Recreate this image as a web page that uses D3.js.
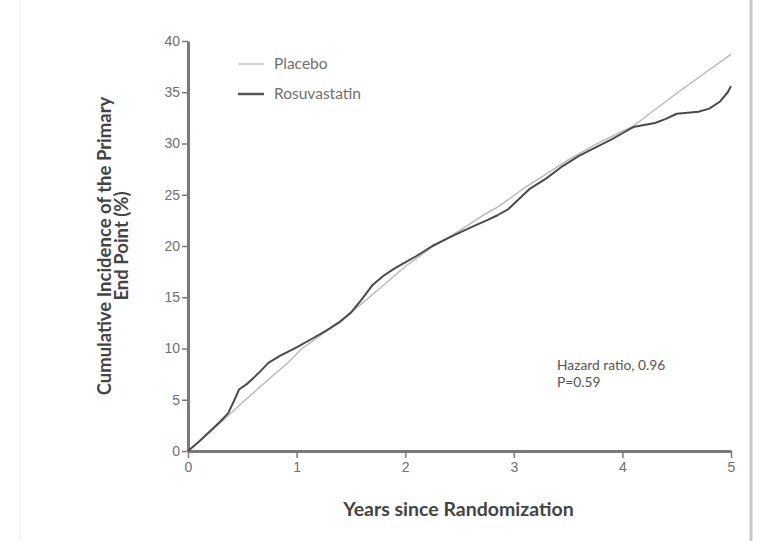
<!DOCTYPE html>
<html>
<head>
<meta charset="utf-8">
<script src="https://cdn.jsdelivr.net/npm/d3@7"></script>
<style>
  html, body { margin: 0; padding: 0; background: #fff; }
  svg { display: block; font-family: Lato, "Open Sans", sans-serif; }
</style>
</head>
<body>
<svg id="chart" width="761" height="541"></svg>
<script>
// Cumulative incidence of the primary end point (%), by years since randomization
const placebo = [
  [0, 0], [0.25, 2.3], [0.5, 4.7], [0.7, 6.6], [0.92, 8.6], [1.05, 10.0],
  [1.25, 11.5], [1.5, 13.5], [1.75, 15.7], [2.0, 18.0], [2.25, 19.9],
  [2.5, 21.5], [2.75, 23.2], [2.85, 23.8], [3.0, 24.9], [3.1, 25.7],
  [3.25, 26.7], [3.5, 28.4], [3.75, 29.9], [4.0, 31.2], [4.1, 31.7],
  [4.25, 32.9], [4.5, 34.9], [4.75, 36.8], [5.0, 38.7]
];
const rosuvastatin = [
  [0, 0], [0.1, 0.9], [0.2, 1.9], [0.3, 2.9], [0.37, 3.7], [0.42, 4.8],
  [0.47, 6.0], [0.55, 6.6], [0.65, 7.6], [0.74, 8.6], [0.85, 9.3],
  [1.0, 10.1], [1.15, 11.0], [1.28, 11.8], [1.4, 12.6], [1.5, 13.5],
  [1.6, 14.8], [1.7, 16.2], [1.8, 17.1], [1.9, 17.8], [2.0, 18.4],
  [2.1, 19.0], [2.25, 20.0], [2.4, 20.8], [2.5, 21.3], [2.6, 21.8],
  [2.75, 22.5], [2.85, 23.0], [2.95, 23.6], [3.05, 24.6], [3.15, 25.6],
  [3.3, 26.6], [3.45, 27.8], [3.6, 28.8], [3.75, 29.6], [3.9, 30.4],
  [4.0, 31.0], [4.1, 31.6], [4.2, 31.8], [4.3, 32.0], [4.4, 32.4],
  [4.5, 32.9], [4.6, 33.0], [4.7, 33.1], [4.8, 33.4], [4.9, 34.1],
  [4.97, 35.0], [5.0, 35.6]
];
const xTicks = [0, 1, 2, 3, 4, 5];
const yTicks = [0, 5, 10, 15, 20, 25, 30, 35, 40];
const seriesNames = ["Placebo", "Rosuvastatin"];
const statsLines = ["Hazard ratio, 0.96", "P=0.59"];

const svg = d3.select("#chart");
const plot = { left: 188, right: 731, top: 41, bottom: 451 };

const x = d3.scaleLinear().domain([0, 5]).range([plot.left, plot.right]);
const y = d3.scaleLinear().domain([0, 40]).range([plot.bottom, plot.top]);

// frame edges of the panel
svg.append("line").attr("x1", 751).attr("x2", 751).attr("y1", 0).attr("y2", 541)
  .attr("stroke", "#c8c8c8").attr("stroke-width", 3);
svg.append("line").attr("x1", 20).attr("x2", 20).attr("y1", 0).attr("y2", 541)
  .attr("stroke", "#f0f0f0").attr("stroke-width", 1);

const axisColor = "#7a7a7a";
const tickText = "#707070";

// x axis
const gx = svg.append("g").attr("transform", `translate(0,${plot.bottom})`)
  .call(d3.axisBottom(x).tickValues(xTicks).tickFormat(d3.format("d"))
    .tickSizeInner(7).tickSizeOuter(0).tickPadding(4));
gx.select(".domain").attr("stroke", axisColor).attr("stroke-width", 3);
gx.selectAll(".tick line").attr("stroke", axisColor).attr("stroke-width", 1.5);
gx.selectAll(".tick text").attr("fill", tickText).attr("font-size", 14);

// y axis
const gy = svg.append("g").attr("transform", `translate(${plot.left},0)`)
  .call(d3.axisLeft(y).tickValues(yTicks).tickFormat(d3.format("d"))
    .tickSizeInner(6).tickSizeOuter(0).tickPadding(2));
gy.select(".domain").attr("stroke", axisColor).attr("stroke-width", 3);
gy.selectAll(".tick line").attr("stroke", axisColor).attr("stroke-width", 1.5);
gy.selectAll(".tick text").attr("fill", tickText).attr("font-size", 14);

// curves
const line = d3.line().x(d => x(d[0])).y(d => y(d[1])).curve(d3.curveLinear);
svg.append("path").datum(placebo).attr("d", line)
  .attr("fill", "none").attr("stroke", "#b8b8b8").attr("stroke-width", 1.4);
svg.append("path").datum(rosuvastatin).attr("d", line)
  .attr("fill", "none").attr("stroke", "#4a4a4a").attr("stroke-width", 2)
  .attr("stroke-linejoin", "round");

// legend
const legend = svg.append("g");
const legendStyles = [{ c: "#c4c4c4", w: 1.5 }, { c: "#555", w: 2.5 }];
seriesNames.forEach((name, i) => {
  const ly = 64 + i * 30;
  legend.append("line").attr("x1", 238).attr("x2", 264).attr("y1", ly).attr("y2", ly)
    .attr("stroke", legendStyles[i].c).attr("stroke-width", legendStyles[i].w);
  legend.append("text").attr("x", 274).attr("y", ly + 5)
    .attr("font-size", 15.5).attr("fill", "#707070").text(name);
});

// statistics annotation
statsLines.forEach((t, i) => {
  svg.append("text").attr("x", 557).attr("y", 370 + i * 17)
    .attr("font-size", 13.8).attr("fill", "#555").text(t);
});

// axis titles
svg.append("text").attr("x", x(2.5) - 1).attr("y", 516)
  .attr("text-anchor", "middle").attr("font-size", 19.5).attr("font-weight", "bold")
  .attr("fill", "#444").text("Years since Randomization");

const yTitle = svg.append("text")
  .attr("transform", "translate(0,246) rotate(-90)")
  .attr("text-anchor", "middle").attr("font-size", 18.5).attr("font-weight", "bold")
  .attr("fill", "#444");
yTitle.append("tspan").attr("x", 0).attr("y", 111).text("Cumulative Incidence of the Primary");
yTitle.append("tspan").attr("x", 0).attr("y", 128).text("End Point (%)");
</script>
</body>
</html>
